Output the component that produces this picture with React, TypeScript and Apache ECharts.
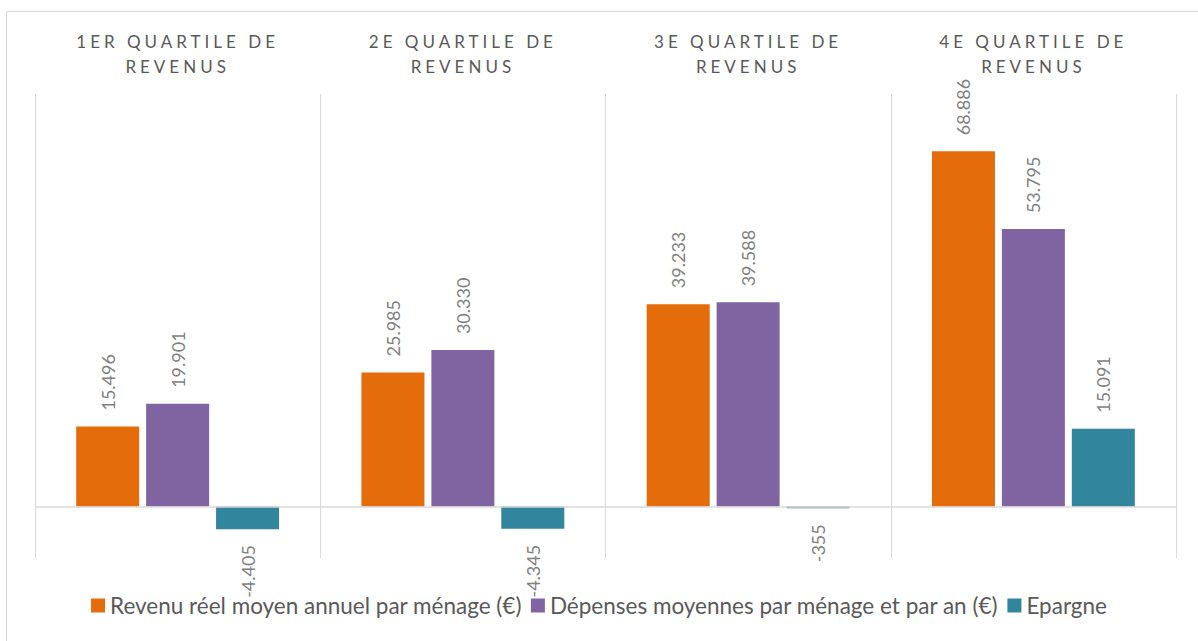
import React, { useEffect, useRef } from "react";
import * as echarts from "echarts";

const categories = [
  "1ER QUARTILE DE\nREVENUS",
  "2E QUARTILE DE\nREVENUS",
  "3E QUARTILE DE\nREVENUS",
  "4E QUARTILE DE\nREVENUS",
];
const seriesNames = [
  "Revenu réel moyen annuel par ménage (€)",
  "Dépenses moyennes par ménage et par an (€)",
  "Epargne",
];
const revenu = [15496, 25985, 39233, 68886];
const depenses = [19901, 30330, 39588, 53795];
const epargne = [-4405, -4345, -355, 15091];
const colors = ["#E46C0A", "#8064A2", "#31859C"];

const FONT = "Lato, 'Liberation Sans', sans-serif";

function fmt(v: number): string {
  const s = Math.abs(v).toString().replace(/\B(?=(\d{3})+(?!\d))/g, ".");
  return (v < 0 ? "-" : "") + s;
}

export default function App() {
  const ref = useRef<HTMLDivElement>(null);
  useEffect(() => {
    if (!ref.current) return;
    const chart = echarts.init(ref.current, undefined, { renderer: "svg" });
    const mk = (name: string, vals: number[], color: string, withZero: boolean) => ({
      name,
      type: "bar",
      barWidth: 63,
      barGap: "11%",
      barMinHeight: 0,
      itemStyle: { color },
      data: vals.map((v) => ({
        value: v,
        label:
          v < 0
            ? { position: "bottom", align: "right" }
            : { position: "top", align: "left" },
      })),
      label: {
        show: true,
        rotate: 90,
        distance: 16,
        verticalAlign: "middle",
        color: "#7F7F7F",
        fontSize: 18,
        fontFamily: FONT,
        formatter: (p: any) => fmt(p.value),
      },
      markLine: withZero
        ? {
            silent: true,
            symbol: "none",
            label: { show: false },
            lineStyle: { color: "#D9D9D9", width: 1.5, type: "solid" },
            data: [{ yAxis: 0 }],
          }
        : undefined,
    });
    chart.setOption({
      animation: false,
      backgroundColor: "#ffffff",
      graphic: [
        {
          type: "polyline",
          shape: { points: [[6.5, 700], [6.5, 11.5], [1200, 11.5]] },
          style: { stroke: "#D9D9D9", lineWidth: 1, fill: null },
          silent: true,
        },
      ],
      grid: { left: 35, right: 22, top: 94, bottom: 83, containLabel: false },
      legend: {
        bottom: 19,
        left: "center",
        itemWidth: 14,
        itemHeight: 14,
        itemGap: 9,
        icon: "rect",
        textStyle: { color: "#595959", fontSize: 22.5, fontFamily: FONT },
        data: seriesNames,
      },
      xAxis: {
        type: "category",
        position: "top",
        data: categories,
        axisLine: { show: false, onZero: false },
        axisTick: { show: false },
        axisLabel: {
          color: "#595958",
          fontSize: 17,
          fontFamily: FONT,
          lineHeight: 25,
          margin: 15,
          interval: 0,
        },
        splitLine: { show: true, lineStyle: { color: "#D9D9D9", width: 1 } },
      },
      yAxis: {
        type: "value",
        min: -10000,
        max: 80000,
        interval: 10000,
        show: false,
        splitLine: { show: false },
      },
      series: [
        mk(seriesNames[0], revenu, colors[0], true),
        mk(seriesNames[1], depenses, colors[1], false),
        mk(seriesNames[2], epargne, colors[2], false),
      ],
    });
    return () => chart.dispose();
  }, []);
  return (
    <>
      <style>{`text[fill="#595958"]{letter-spacing:4px;}`}</style>
      <div
        ref={ref}
        style={{ position: "fixed", left: 0, top: 0, width: 1198, height: 641 }}
      />
    </>
  );
}
